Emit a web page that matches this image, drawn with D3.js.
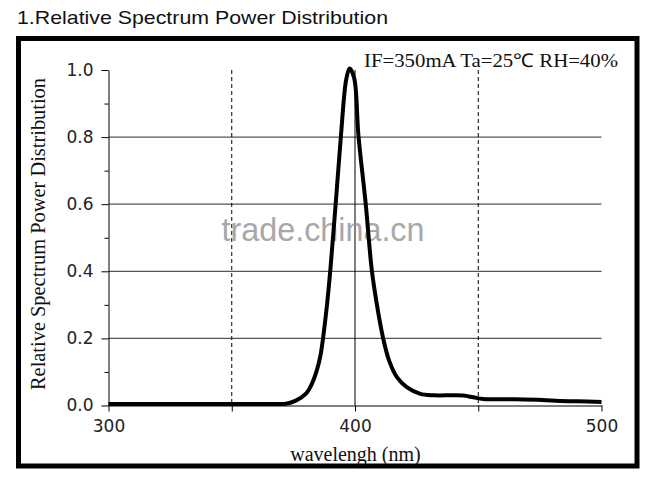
<!DOCTYPE html>
<html>
<head>
<meta charset="utf-8">
<script src="https://cdn.jsdelivr.net/npm/d3@7"></script>
<style>
  html, body { margin: 0; padding: 0; background: #fff; }
  svg { display: block; }
</style>
</head>
<body>
<svg id="visuals" width="648" height="480"></svg>
<script>
// spectrum (nm -> relative power)
const wavelengths = [300, 330, 355, 366, 372, 376, 380, 382.5, 384.5, 386, 387.1, 388.7, 390, 392.2, 394.3, 396.5, 397.9, 399.7, 401.4, 404.3, 406.8, 408.8, 411.3, 413.8, 417, 421, 426.5, 432, 440, 444, 448, 452, 465, 476, 483, 490, 500];
const power = [0, 0, 0, 0, 0.001, 0.01, 0.03, 0.06, 0.1, 0.145, 0.2, 0.3, 0.4, 0.6, 0.8, 0.97, 1.0, 0.97, 0.8, 0.6, 0.4, 0.3, 0.2, 0.13, 0.08, 0.05, 0.03, 0.026, 0.026, 0.025, 0.02, 0.015, 0.014, 0.012, 0.009, 0.008, 0.006];

const xTicks = [300, 350, 400, 450, 500];
const xLabels = [300, 400, 500];
const yTicks = [0, 0.2, 0.4, 0.6, 0.8, 1.0];
const yMinorTicks = [0.1, 0.3, 0.5, 0.7, 0.9];
const hGrid = [0.2, 0.4, 0.6, 0.8];
const vGridSolid = [400];
const vGridDashed = [350, 450];

const title = "1.Relative Spectrum Power Distribution";
const note = "IF=350mA Ta=25\u2103 RH=40%";
const xTitle = "wavelengh (nm)";
const yTitle = "Relative Spectrum Power Distribution";

const svg = d3.select("#visuals");

const x = d3.scaleLinear().domain([300, 500]).range([108.5, 601.5]);
const y = d3.scaleLinear().domain([0, 1]).range([405.5, 70]);

function drawFrame() {
  svg.append("text")
    .attr("x", 17)
    .attr("y", 23.5)
    .attr("font-family", "Liberation Sans, Arial, sans-serif")
    .attr("font-size", 19)
    .attr("textLength", 371)
    .attr("lengthAdjust", "spacingAndGlyphs")
    .attr("fill", "#111")
    .text(title);

  svg.append("rect")
    .attr("x", 18.5)
    .attr("y", 38.5)
    .attr("width", 618.5)
    .attr("height", 427.5)
    .attr("fill", "none")
    .attr("stroke", "#000")
    .attr("stroke-width", 5);
}

function drawGrid() {
  svg.append("g").selectAll("line")
    .data(hGrid)
    .join("line")
    .attr("x1", x(300)).attr("x2", x(500))
    .attr("y1", (d) => y(d)).attr("y2", (d) => y(d))
    .attr("stroke", "#555")
    .attr("stroke-width", 1.2);

  svg.append("g").selectAll("line")
    .data(vGridSolid)
    .join("line")
    .attr("x1", (d) => x(d)).attr("x2", (d) => x(d))
    .attr("y1", y(1)).attr("y2", y(0))
    .attr("stroke", "#000")
    .attr("stroke-width", 1);

  svg.append("g").selectAll("line")
    .data(vGridDashed)
    .join("line")
    .attr("x1", (d) => x(d)).attr("x2", (d) => x(d))
    .attr("y1", y(1)).attr("y2", y(0))
    .attr("stroke", "#000")
    .attr("stroke-width", 1)
    .attr("stroke-dasharray", "4,3");
}

function drawWatermark() {
  svg.append("text")
    .attr("x", 323)
    .attr("y", 241)
    .attr("text-anchor", "middle")
    .attr("font-family", "Liberation Sans, Arial, sans-serif")
    .attr("font-size", 33)
    .attr("textLength", 203)
    .attr("lengthAdjust", "spacingAndGlyphs")
    .attr("fill", "#9a9a9a")
    .attr("opacity", 0.85)
    .text("trade.china.cn");
}

function drawAxes() {
  const tickFont = "DejaVu Sans, sans-serif";

  const yAxis = svg.append("g")
    .attr("transform", `translate(${x(300)},0)`)
    .call(d3.axisLeft(y).tickValues(yTicks).tickSize(7).tickSizeOuter(0)
      .tickPadding(8).tickFormat(d3.format(".1f")));
  svg.append("g")
    .attr("transform", `translate(${x(300)},0)`)
    .call(d3.axisLeft(y).tickValues(yMinorTicks).tickSize(4).tickSizeOuter(0).tickFormat(""))
    .select(".domain").remove();

  const xAxis = svg.append("g")
    .attr("transform", `translate(0,${y(0)})`)
    .call(d3.axisBottom(x).tickValues(xTicks).tickSize(6).tickSizeOuter(0)
      .tickPadding(8).tickFormat((d) => (xLabels.includes(d) ? d : "")));

  [xAxis, yAxis].forEach((g) => {
    g.selectAll("path, line").attr("stroke", "#000").attr("stroke-width", 1);
    g.selectAll("text")
      .attr("font-family", tickFont)
      .attr("font-size", 17)
      .attr("fill", "#222");
  });

  svg.append("text")
    .attr("x", 355.5)
    .attr("y", 460.5)
    .attr("text-anchor", "middle")
    .attr("font-family", "Liberation Serif, Times New Roman, serif")
    .attr("font-size", 20)
    .attr("fill", "#111")
    .text(xTitle);

  svg.append("text")
    .attr("transform", "translate(45,234) rotate(-90)")
    .attr("text-anchor", "middle")
    .attr("font-family", "Liberation Serif, Times New Roman, serif")
    .attr("font-size", 20)
    .attr("textLength", 312)
    .attr("lengthAdjust", "spacingAndGlyphs")
    .attr("fill", "#111")
    .text(yTitle);

  svg.append("text")
    .attr("x", 364)
    .attr("y", 67)
    .attr("font-family", "Liberation Serif, Times New Roman, serif")
    .attr("font-size", 19)
    .attr("textLength", 254)
    .attr("lengthAdjust", "spacingAndGlyphs")
    .attr("fill", "#111")
    .text(note);
}

function drawCurve() {
  const points = wavelengths.map((w, i) => [w, power[i]]);
  const line = d3.line()
    .x((d) => x(d[0]))
    .y((d) => y(d[1]) - 1.5)
    .curve(d3.curveCatmullRom.alpha(0.5));

  svg.append("path")
    .datum(points)
    .attr("d", line)
    .attr("fill", "none")
    .attr("stroke", "#000")
    .attr("stroke-width", 4)
    .attr("stroke-linejoin", "round")
    .attr("stroke-linecap", "butt");
}

function main() {
  drawFrame();
  drawGrid();
  drawWatermark();
  drawAxes();
  drawCurve();
}

main();
</script>
</body>
</html>
